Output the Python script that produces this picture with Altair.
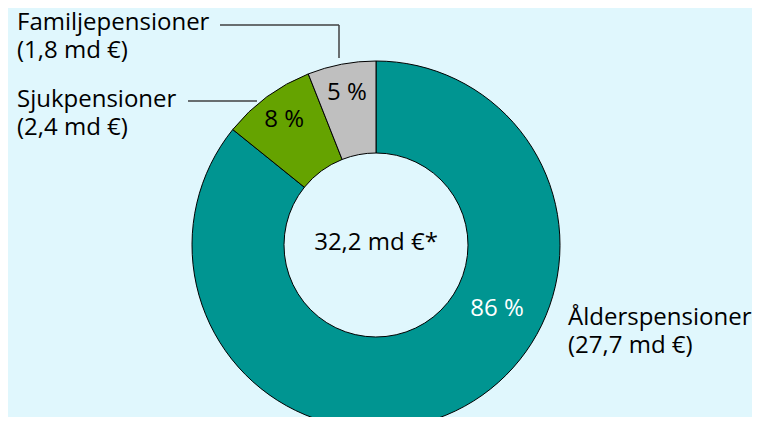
import altair as alt
import pandas as pd

# Data
categories = ["Ålderspensioner", "Sjukpensioner", "Familjepensioner"]
amount_labels = ["(27,7 md €)", "(2,4 md €)", "(1,8 md €)"]
shares = [85.8, 8.2, 6.0]          # slice share (%) as drawn
pct_labels = ["86 %", "8 %", "5 %"]
total_label = "32,2 md €*"
colors = ["#009591", "#65a300", "#bfbfbf"]

df = pd.DataFrame({
    "idx": list(range(len(categories))),
    "cat": categories,
    "amount": amount_labels,
    "share": shares,
    "pct": pct_labels,
})

FONT = "Open Sans"
FS = 24
CX, CY = 368, 237
LINE = "#404040"

base = alt.Chart(df)

arc = base.mark_arc(radius=184, radius2=92, stroke="black", strokeWidth=1).encode(
    theta=alt.Theta("share:Q", stack=True),
    order=alt.Order("idx:Q"),
    color=alt.Color("cat:N", scale=alt.Scale(domain=categories, range=colors), legend=None),
    x=alt.value(CX),
    y=alt.value(CY),
)

inner_txt = base.mark_text(radius=155, font=FONT, fontSize=FS, color="black").encode(
    theta=alt.Theta("share:Q", stack=True),
    order=alt.Order("idx:Q"),
    text="pct:N",
    opacity=alt.condition("datum.idx == 0", alt.value(0), alt.value(1)),
    x=alt.value(CX),
    y=alt.value(CY),
)

big_pct = base.transform_filter("datum.idx == 0").mark_text(
    font=FONT, fontSize=FS, color="white"
).encode(text="pct:N", x=alt.value(489), y=alt.value(301))

center = base.transform_filter("datum.idx == 0").mark_text(
    font=FONT, fontSize=FS, color="black"
).encode(text=alt.value(total_label), x=alt.value(CX), y=alt.value(235))


def outer_label(i, x, y, field):
    return base.transform_filter(f"datum.idx == {i}").mark_text(
        font=FONT, fontSize=FS, color="black", align="left", baseline="alphabetic",
    ).encode(text=f"{field}:N", x=alt.value(x), y=alt.value(y))


labels = [
    outer_label(0, 560, 317, "cat"), outer_label(0, 560, 345, "amount"),
    outer_label(1, 9, 99, "cat"), outer_label(1, 9, 127, "amount"),
    outer_label(2, 9, 22, "cat"), outer_label(2, 9, 50, "amount"),
]

one = base.transform_filter("datum.idx == 0")
rule1 = one.mark_rule(color=LINE, strokeWidth=1.5).encode(
    x=alt.value(212), x2=alt.value(331), y=alt.value(17))
rule2 = one.mark_rule(color=LINE, strokeWidth=1.5).encode(
    x=alt.value(331), y=alt.value(17), y2=alt.value(50))
rule3 = one.mark_rule(color=LINE, strokeWidth=1.5).encode(
    x=alt.value(180), x2=alt.value(249), y=alt.value(93))

chart = alt.layer(
    arc, inner_txt, big_pct, center, *labels, rule1, rule2, rule3
).properties(
    width=744, height=409, background="#e0f7fd", padding=0,
    autosize=alt.AutoSizeParams(type="none"),
).configure_view(stroke=None)

chart.save("out.html", embed_options={"renderer": "svg", "actions": False})
